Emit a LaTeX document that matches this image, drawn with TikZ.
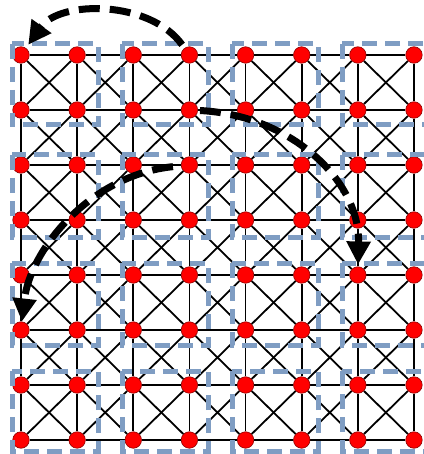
\documentclass[tikz,border=0pt]{standalone}
\usetikzlibrary{arrows.meta,backgrounds}
\definecolor{rectblue}{HTML}{7F9DC3}
\definecolor{nodered}{HTML}{FF0000}
\definecolor{darkrim}{HTML}{8B0000}
\begin{document}
\begin{tikzpicture}[x=1pt,y=-1pt,
  dot/.style={circle,fill=nodered,draw=darkrim,line width=0.6pt,minimum size=16.5pt,inner sep=0pt},
  edge/.style={line width=1.8pt,black},
  group/.style={draw=rectblue,line width=5pt,dash pattern=on 15pt off 8pt},
  hop/.style={line width=7pt,dash pattern=on 21pt off 10pt,-{Triangle[length=23pt,width=23pt]}}]
\useasboundingbox (0,0) rectangle (423,454);
\foreach \i in {0,...,7}{
  \foreach \j in {0,...,7}{
    \node[dot] (n-\i-\j) at ({21+56.14*\i},{55+55*\j}) {};
  }
}
\begin{scope}[on background layer]
\foreach \i in {0,...,7}{
  \foreach \j [evaluate=\j as \jj using int(\j+1)] in {0,...,6}{
    \draw[edge] (n-\i-\j) -- (n-\i-\jj);
    \draw[edge] (n-\j-\i) -- (n-\jj-\i);
  }
}
\foreach \i [evaluate=\i as \ii using int(\i+1)] in {0,...,6}{
  \foreach \j [evaluate=\j as \jj using int(\j+1)] in {0,...,6}{
    \draw[edge] (n-\i-\j) -- (n-\ii-\jj);
    \draw[edge] (n-\ii-\j) -- (n-\i-\jj);
  }
}
\end{scope}
\foreach \xa/\xb in {12/98,122/208,232/318,342/428}{
  \foreach \ya/\yb in {44/125,155/237,263/345,371/451}{
    \draw[group] (\xa,\ya) rectangle (\xb,\yb);
  }
}
\draw[hop,shorten <=4pt,shorten >=4pt] (n-3-0) .. controls (150,0) and (60,0) .. (n-0-0);
\draw[hop,shorten <=2pt,shorten >=2pt] (n-3-1) .. controls (290,115) and (360,180) .. (n-6-4);
\draw[hop,shorten <=8pt] (n-3-2) .. controls (90,175) and (30,250) .. (n-0-5);
\end{tikzpicture}
\end{document}
